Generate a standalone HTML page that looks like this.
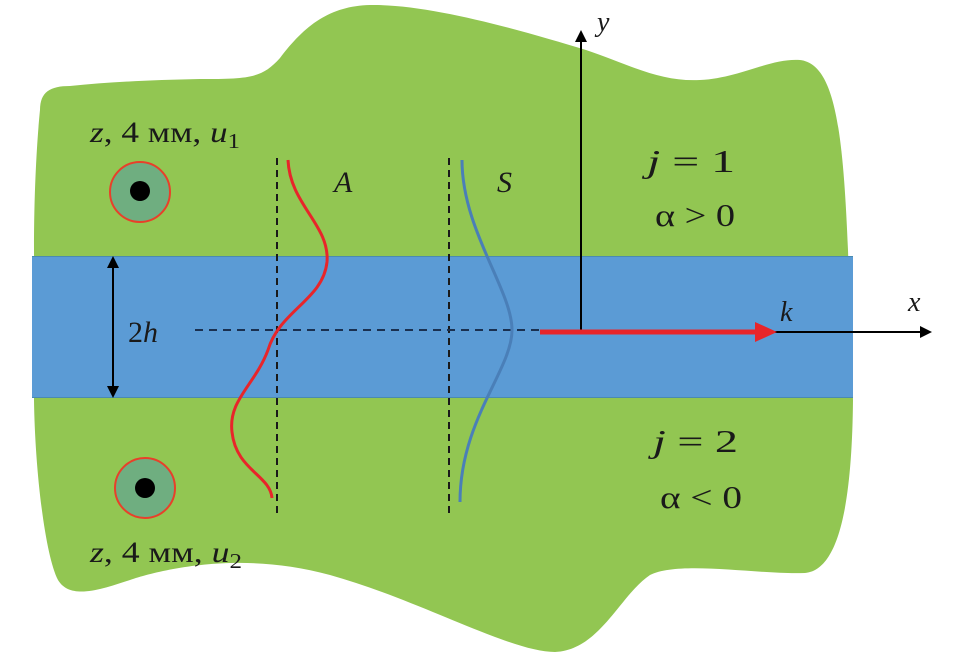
<!DOCTYPE html>
<html><head><meta charset="utf-8"><style>
html,body{margin:0;padding:0;background:#fff;}
svg{display:block;}
text{font-family:"Liberation Serif","DejaVu Serif",serif;fill:#1a1a1a;}
</style></head><body>
<svg width="957" height="663" viewBox="0 0 957 663" xmlns="http://www.w3.org/2000/svg">
<defs>
<marker id="ah2" markerWidth="12" markerHeight="12" refX="10" refY="6" orient="auto-start-reverse" markerUnits="userSpaceOnUse"><path d="M0,0 L12,6 L0,12 z" fill="#000"/></marker>
</defs>
<path d="M40,110 C40,92 50,86 70,86 C110,82 150,80 200,79 C250,79 262,78 280,58 C305,25 330,6 370,5 C430,4 520,30 586,50 C630,65 660,82 700,80 C740,78 770,58 800,60 C835,64 843,130 848,250 L853,400 C852,500 840,570 805,573 C760,575 680,560 650,575 C620,595 600,650 555,652 C510,652 420,600 330,575 C240,550 160,570 130,580 C100,590 70,600 58,580 C45,555 35,470 34,400 L34,250 C34,180 38,130 40,110 Z" fill="#92c652"/>
<rect x="32" y="256" width="821" height="142" fill="#5b9bd5"/>
<line x1="32" y1="256.5" x2="853" y2="256.5" stroke="#4a8bb0" stroke-width="1"/>
<line x1="32" y1="397.5" x2="853" y2="397.5" stroke="#4a8bb0" stroke-width="1"/>
<circle cx="140" cy="192" r="30" fill="#6fae80" stroke="#e8402a" stroke-width="2"/>
<circle cx="140" cy="191" r="10" fill="#000"/>
<circle cx="145" cy="488" r="30" fill="#6fae80" stroke="#e8402a" stroke-width="2"/>
<circle cx="145" cy="488" r="10" fill="#000"/>
<line x1="277" y1="158" x2="277" y2="518" stroke="#1a1a1a" stroke-width="2" stroke-dasharray="7,5"/>
<line x1="449" y1="158" x2="449" y2="518" stroke="#1a1a1a" stroke-width="2" stroke-dasharray="7,5"/>
<line x1="195" y1="330" x2="540" y2="330" stroke="#1a3050" stroke-width="2" stroke-dasharray="8,6"/>
<path d="M288,160 C290,205 330,225 327,262 C323,300 280,310 268,350 C255,385 228,400 232,432 C236,470 270,475 272,498" fill="none" stroke="#e8252a" stroke-width="3"/>
<path d="M462,160 C462,230 512,290 512,330 C512,370 460,420 460,502" fill="none" stroke="#4a7fb8" stroke-width="3"/>
<line x1="113" y1="258" x2="113" y2="396" stroke="#000" stroke-width="2" marker-start="url(#ah2)" marker-end="url(#ah2)"/>
<line x1="581" y1="330" x2="581" y2="32" stroke="#000" stroke-width="2" marker-end="url(#ah2)"/>
<line x1="760" y1="332" x2="930" y2="332" stroke="#000" stroke-width="2" marker-end="url(#ah2)"/>
<line x1="540" y1="332" x2="760" y2="332" stroke="#e8252a" stroke-width="5"/>
<path d="M755,322 L777,332 L755,342 z" fill="#e8252a"/>
<text x="90" y="142" font-size="30" textLength="150" lengthAdjust="spacingAndGlyphs"><tspan font-style="italic">z</tspan>, 4 мм, <tspan font-style="italic">u</tspan><tspan font-size="21" dy="6">1</tspan></text>
<text x="90" y="562" font-size="30" textLength="152" lengthAdjust="spacingAndGlyphs"><tspan font-style="italic">z</tspan>, 4 мм, <tspan font-style="italic">u</tspan><tspan font-size="21" dy="6">2</tspan></text>
<text x="334" y="192" font-size="30" font-style="italic">A</text>
<text x="497" y="192" font-size="30" font-style="italic">S</text>
<text x="647" y="172" font-size="32" textLength="88" lengthAdjust="spacingAndGlyphs"><tspan font-style="italic">j</tspan> = 1</text>
<text x="655" y="226" font-size="32" textLength="80" lengthAdjust="spacingAndGlyphs">α &gt; 0</text>
<text x="653" y="452" font-size="32" textLength="85" lengthAdjust="spacingAndGlyphs"><tspan font-style="italic">j</tspan> = 2</text>
<text x="660" y="508" font-size="32" textLength="82" lengthAdjust="spacingAndGlyphs">α &lt; 0</text>
<text x="128" y="342" font-size="30">2<tspan font-style="italic">h</tspan></text>
<text x="780" y="321" font-size="28" font-style="italic">k</text>
<text x="908" y="311" font-size="28" font-style="italic">x</text>
<text x="597" y="31" font-size="28" font-style="italic">y</text>
</svg>
</body></html>
